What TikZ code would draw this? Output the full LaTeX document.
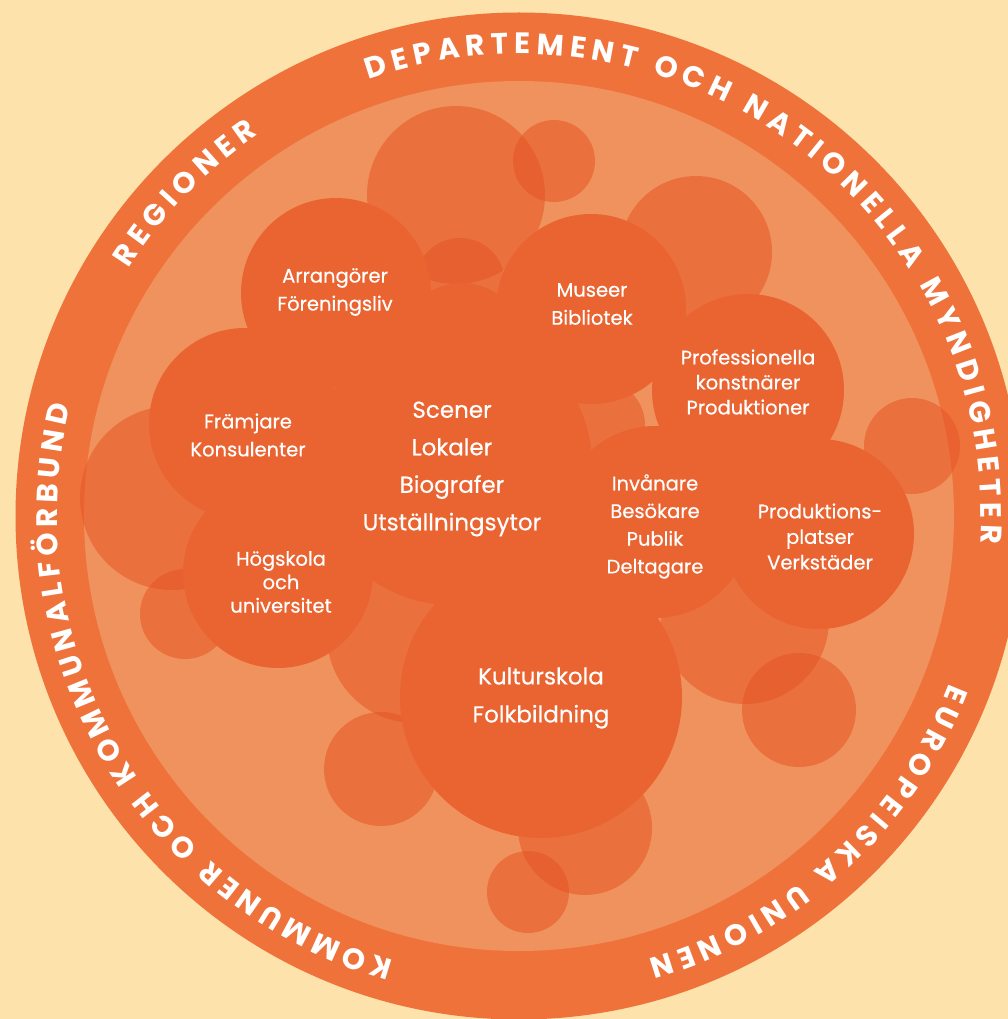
\documentclass[tikz,border=0pt]{standalone}
\usepackage{fontspec}
\usetikzlibrary{calc}
\newfontfamily\popfam{Poppins}
\newfontfamily\popmed{Poppins}[FakeBold=0.5]
\definecolor{bgc}{HTML}{FDE2AB}
\definecolor{ringc}{HTML}{EF723B}
\definecolor{innerc}{HTML}{F0925D}
\definecolor{mainc}{HTML}{EA6431}
\definecolor{fadec}{HTML}{E65526}
\newlength\ringlen
\newcommand\ringfnt{\popfam\bfseries\fontsize{29.5}{29.5}\selectfont}
\newcommand\ringR{462}
\newcommand\ringtrk{5.8}
% measure outside the picture
\newcommand\prepring[3]{%
  \gdef\ringtot{0}%
  \foreach \rc in {#3}{%
    \settowidth\ringlen{\ringfnt\rc}%
    \pgfmathsetmacro\ringtmp{\ringtot+\the\ringlen+\ringtrk}%
    \xdef\ringtot{\ringtmp}}%
  \pgfmathsetmacro\ringstart{#2+(\ringtot-\ringtrk)/2/\ringR*180/pi}%
  \xdef\ringstart{\ringstart}%
  \gdef\ringacc{0}%
  \foreach \rc [count=\ri] in {#3}{%
    \settowidth\ringlen{\ringfnt\rc}%
    \pgfmathsetmacro\ringang{\ringstart-(\ringacc+\the\ringlen/2)/\ringR*180/pi}%
    \expandafter\xdef\csname ringA#1-\ri\endcsname{\ringang}%
    \pgfmathsetmacro\ringtmp{\ringacc+\the\ringlen+\ringtrk}%
    \xdef\ringacc{\ringtmp}}%
}
\newcommand\drawring[2]{%
  \foreach \rc [count=\ri] in {#2}{%
    \edef\ringang{\csname ringA#1-\ri\endcsname}%
    \pgfmathsetmacro\ringrot{\ringang-90}%
    \node[ringlet,rotate=\ringrot] at ($(C)+(\ringang:\ringR)$) {\rc};}%
}
\tikzset{
  ringlet/.style={text=white, inner sep=0pt, anchor=base, font=\ringfnt},
  lbl/.style={text=white, align=center, inner sep=0pt},
  small/.style={font=\popmed\fontsize{19.5}{#1}\selectfont},
  big/.style={font=\popmed\fontsize{23}{#1}\selectfont},
  fade/.style={fill=fadec, fill opacity=0.55},
  bub/.style={fill=mainc}
}
\begin{document}
\prepring{a}{136}{R,E,G,I,O,N,E,R}%
\prepring{b}{52.8}{D,E,P,A,R,T,E,M,E,N,T,~,O,C,H,~,N,A,T,I,O,N,E,L,L,A,~,M,Y,N,D,I,G,H,E,T,E,R}%
\prepring{c}{-47.5}{E,U,R,O,P,E,I,S,K,A,~,U,N,I,O,N,E,N}%
\renewcommand\ringtrk{5.0}%
\prepring{d}{210.2}{K,O,M,M,U,N,E,R,~,O,C,H,~,K,O,M,M,U,N,A,L,F,Ö,R,B,U,N,D}%
\begin{tikzpicture}[x=1pt,y=1pt]
\useasboundingbox (0,0) rectangle (1008,-1019);
\fill[bgc] (0,0) rectangle (1008,-1019);
\coordinate (C) at (519,-516);
\fill[ringc] (C) circle[radius=503.5];
\fill[innerc] (C) circle[radius=435];
% faded bubbles
\fill[fade] (456,-195) circle[radius=89];
\fill[fade] (554,-161) circle[radius=41];
\fill[fade] (460,-283) circle[radius=45];
\fill[fade] (696,-252) circle[radius=76];
\fill[fade] (172,-498) circle[radius=92];
\fill[fade] (185,-614) circle[radius=45];
\fill[fade] (381,-769) circle[radius=57];
\fill[fade] (415,-635) circle[radius=88];
\fill[fade] (585,-828) circle[radius=67];
\fill[fade] (528,-892) circle[radius=41];
\fill[fade] (799,-710) circle[radius=57];
\fill[fade] (745,-620) circle[radius=84];
\fill[fade] (912,-446) circle[radius=48];
\fill[fade] (600,-425) circle[radius=45];
% main bubbles
\fill[bub] (462,-345) circle[radius=62];
\fill[bub] (572,-560) circle[radius=32];
\fill[bub] (336,-293) circle[radius=95];
\fill[bub] (591,-309) circle[radius=95];
\fill[bub] (748,-390) circle[radius=96];
\fill[bub] (245,-424) circle[radius=96];
\fill[bub] (452,-465) circle[radius=140];
\fill[bub] (278,-573) circle[radius=95];
\fill[bub] (655,-522) circle[radius=96];
\fill[bub] (819,-534) circle[radius=95];
\fill[bub] (541,-697) circle[radius=141];
% labels
\node[lbl,small=28] (arr) at (335,-292) {Arrangörer\\Föreningsliv};
\node[lbl,small=28] (mus) at (592,-304) {Museer\\Bibliotek};
\node[lbl,small=25] (pro) at (748,-382) {Professionella\\konstnärer\\Produktioner};
\node[lbl,small=28] (fra) at (248,-435) {Främjare\\Konsulenter};
\node[lbl,big=37.5] (sce) at (452,-469) {Scener\\Lokaler\\Biografer\\Utställningsytor};
\node[lbl,small=23.5] (hog) at (281,-582) {Högskola\\och\\universitet};
\node[lbl,small=27.7] (inv) at (655,-526.5) {Invånare\\Besökare\\Publik\\Deltagare};
\node[lbl,small=25.5] (prp) at (820,-536.5) {Produktions-\\platser\\Verkstäder};
\node[lbl,big=38] (kul) at (541,-698) {Kulturskola\\Folkbildning};
% ring texts
\drawring{a}{R,E,G,I,O,N,E,R}
\drawring{b}{D,E,P,A,R,T,E,M,E,N,T,~,O,C,H,~,N,A,T,I,O,N,E,L,L,A,~,M,Y,N,D,I,G,H,E,T,E,R}
\drawring{c}{E,U,R,O,P,E,I,S,K,A,~,U,N,I,O,N,E,N}
\drawring{d}{K,O,M,M,U,N,E,R,~,O,C,H,~,K,O,M,M,U,N,A,L,F,Ö,R,B,U,N,D}
\end{tikzpicture}
\end{document}
